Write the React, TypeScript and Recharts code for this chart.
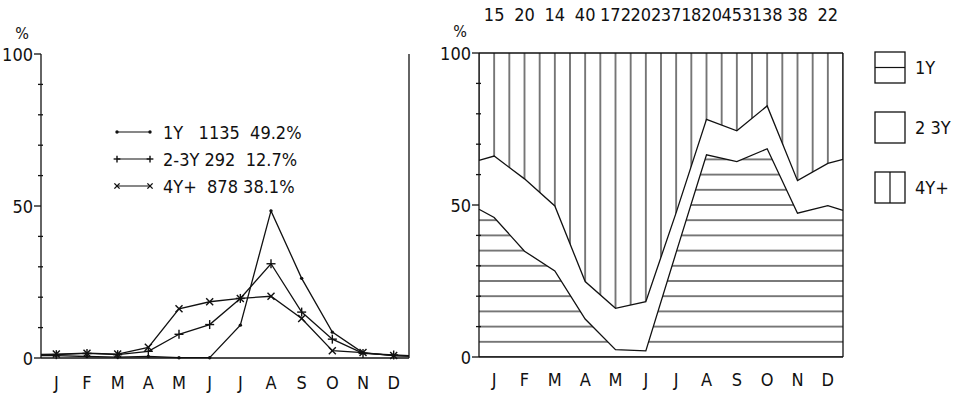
import React from "react";
import { LineChart, Line, ComposedChart, Area, XAxis, YAxis, Legend } from "recharts";

const months = ["J", "F", "M", "A", "M", "J", "J", "A", "S", "O", "N", "D"];
const monthTicks = [1, 2, 3, 4, 5, 6, 7, 8, 9, 10, 11, 12];
// 0.5 and 12.5 are the plot edges the curves run out to
const positions = [0.5, 1, 2, 3, 4, 5, 6, 7, 8, 9, 10, 11, 12, 12.5];

// left panel: % of each age group's total caught in each month
const oneYear = [0.8, 0.8, 0.5, 0.3, 0.5, 0.1, 0.1, 10.8, 48.4, 26.2, 8.5, 1.7, 0.8, 0.6];
const twoThree = [1.0, 1.1, 1.5, 1.1, 2.2, 7.8, 11.0, 19.6, 31.0, 15.1, 6.2, 1.5, 1.0, 0.8];
const fourPlus = [1.2, 1.3, 1.6, 1.3, 3.5, 16.2, 18.5, 19.6, 20.3, 13.0, 2.4, 1.8, 0.8, 0.6];

const seriesNames = ["1Y", "2-3Y", "4Y+"];
const seriesTotals = [1135, 292, 878];
const seriesShares = ["49.2%", "12.7%", "38.1%"];

// right panel: monthly counts and cumulative composition
const monthlyCounts = [15, 20, 14, 40, 172, 202, 371, 820, 453, 138, 38, 22];
const oneYearShare = [48.6, 45.9, 34.8, 28.3, 12.5, 2.4, 2.0, 34.4, 66.5, 64.3, 68.5, 47.3, 49.8, 48.2];
const underFourShare = [64.7, 66.1, 58.6, 49.7, 24.8, 16.0, 18.2, 47.5, 78.2, 74.4, 82.6, 58.0, 63.7, 65.0];

const compositionNames = ["1Y", "2 3Y", "4Y+"];

const valueTicks = [0, 10, 20, 30, 40, 50, 60, 70, 80, 90, 100];

const lineData = positions.map((x, i) => ({
  x,
  edge: i === 0 || i === positions.length - 1,
  oneYear: oneYear[i],
  twoThree: twoThree[i],
  fourPlus: fourPlus[i],
}));

const shareData = positions.map((x, i) => ({
  x,
  oneYear: oneYearShare[i],
  underFour: underFourShare[i],
}));

const FONT = '"Liberation Sans Narrow", "DejaVu Sans Condensed", "Liberation Sans", sans-serif';
const INK = "#111";
const FS = 18;

// right panel geometry (for aligning hatch patterns with the grid)
const R_W = 526;
const R_H = 394;
const R_TOP = 53;
const R_BOTTOM_AXIS = 37;
const R_LEFT_AXIS = 39;
const R_RIGHT_AXIS = 10;
const R_MARGIN_RIGHT = 113;
const R_PLOT_W = R_W - R_LEFT_AXIS - R_RIGHT_AXIS - R_MARGIN_RIGHT;
const R_PLOT_H = R_H - R_TOP - R_BOTTOM_AXIS;
const ROW = R_PLOT_H / 20;
const COL = R_PLOT_W / 24;

function LeftValueTick(props: any) {
  const { x, y, payload } = props;
  const v = payload.value;
  const major = v % 50 === 0;
  return (
    <g>
      <line x1={major ? x - 7 : x - 3} x2={major ? x : x + 2} y1={y} y2={y} stroke={INK} strokeWidth={1.3} />
      {major && (
        <text x={x - 8} y={y + 7} textAnchor="end" fontSize={FS} fontFamily={FONT} fill={INK}>
          {v}
        </text>
      )}
    </g>
  );
}

function RightValueTick(props: any) {
  const { x, y, payload } = props;
  const major = payload.value % 50 === 0;
  return <line x1={major ? x : x - 2} x2={major ? x + 6 : x + 4} y1={y} y2={y} stroke={INK} strokeWidth={1.3} />;
}

function MonthTick(props: any) {
  const { x, y, payload, drop } = props;
  return (
    <text x={x} y={y + drop} textAnchor="middle" fontSize={FS} fontFamily={FONT} fill={INK}>
      {months[payload.value - 1]}
    </text>
  );
}

function CountTick(props: any) {
  const { x, y, payload } = props;
  return (
    <text x={x} y={y - 32} textAnchor="middle" fontSize={FS} fontFamily={FONT} fill={INK}>
      {monthlyCounts[payload.value - 1]}
    </text>
  );
}

function UnitLabel(props: any) {
  const { viewBox, dx, dy } = props;
  if (!viewBox) return null;
  return (
    <text x={viewBox.x + viewBox.width + dx} y={viewBox.y + dy} textAnchor="middle" fontSize={16} fontFamily={FONT} fill={INK}>
      %
    </text>
  );
}

function Marker({ kind, cx, cy, s = 1 }: { kind: number; cx: number; cy: number; s?: number }) {
  if (kind === 0) return <circle cx={cx} cy={cy} r={1.7} fill={INK} />;
  if (kind === 1)
    return (
      <g stroke={INK} strokeWidth={1.4}>
        <line x1={cx - 4.5 * s} x2={cx + 4.5 * s} y1={cy} y2={cy} />
        <line x1={cx} x2={cx} y1={cy - 4.5 * s} y2={cy + 4.5 * s} />
      </g>
    );
  return (
    <g stroke={INK} strokeWidth={1.4}>
      <line x1={cx - 3.5 * s} x2={cx + 3.5 * s} y1={cy - 3.5 * s} y2={cy + 3.5 * s} />
      <line x1={cx - 3.5 * s} x2={cx + 3.5 * s} y1={cy + 3.5 * s} y2={cy - 3.5 * s} />
    </g>
  );
}

const makeDot = (kind: number) => (props: any) => {
  const { cx, cy, payload, index } = props;
  if (payload.edge) return <g key={index} />;
  return (
    <g key={index}>
      <Marker kind={kind} cx={cx} cy={cy} />
    </g>
  );
};

// spacing between name, count and share in each legend row
const legendGaps = [
  ["   ", "  "],
  [" ", "  "],
  ["  ", " "],
];

function AgeLegend() {
  return (
    <svg width={220} height={90}>
      {seriesNames.map((name, i) => {
        const cy = 17 + i * 27;
        return (
          <g key={name}>
            <line x1={12} x2={45} y1={cy} y2={cy} stroke={INK} strokeWidth={1.2} />
            <Marker kind={i} cx={12} cy={cy} s={0.75} />
            <Marker kind={i} cx={45} cy={cy} s={0.75} />
            <text x={58} y={cy + 7} fontSize={FS} fontFamily={FONT} fill={INK} style={{ whiteSpace: "pre" }}>
              {`${name}${legendGaps[i][0]}${seriesTotals[i]}${legendGaps[i][1]}${seriesShares[i]}`}
            </text>
          </g>
        );
      })}
    </svg>
  );
}

function CompositionLegend() {
  return (
    <svg width={96} height={170}>
      {compositionNames.map((name, i) => {
        const top = 12 + i * 60;
        return (
          <g key={name}>
            <rect x={5} y={top} width={30} height={31} fill="#fff" stroke={INK} strokeWidth={1.3} />
            {i === 0 && <line x1={5} x2={35} y1={top + 15.5} y2={top + 15.5} stroke={INK} strokeWidth={1.2} />}
            {i === 2 && <line x1={20} x2={20} y1={top} y2={top + 31} stroke={INK} strokeWidth={1.2} />}
            <text x={45} y={top + 22} fontSize={FS} fontFamily={FONT} fill={INK}>
              {name}
            </text>
          </g>
        );
      })}
    </svg>
  );
}

function AgeLines() {
  return (
    <LineChart width={440} height={394} data={lineData} margin={{ top: 54, right: 0, bottom: 0, left: 0 }}>
      <XAxis
        dataKey="x"
        type="number"
        domain={[0.5, 12.5]}
        ticks={monthTicks}
        interval={0}
        height={36}
        tickLine={false}
        tickSize={0}
        tickMargin={0}
        axisLine={{ stroke: INK, strokeWidth: 1.3 }}
        tick={(p: any) => <MonthTick {...p} drop={31} />}
      />
      <YAxis
        yAxisId="left"
        domain={[0, 100]}
        ticks={valueTicks}
        interval={0}
        width={41}
        tickLine={false}
        tickSize={0}
        tickMargin={0}
        axisLine={{ stroke: INK, strokeWidth: 1.3 }}
        tick={(p: any) => <LeftValueTick {...p} />}
        label={<UnitLabel dx={-19} dy={-15} />}
      />
      <YAxis
        yAxisId="right"
        orientation="right"
        domain={[0, 100]}
        ticks={valueTicks}
        interval={0}
        width={31}
        tickLine={false}
        tickSize={0}
        tickMargin={0}
        axisLine={{ stroke: INK, strokeWidth: 1.3 }}
        tick={(p: any) => <RightValueTick {...p} />}
      />
      <Legend
        layout="horizontal"
        verticalAlign="middle"
        align="center"
        content={() => <AgeLegend />}
        wrapperStyle={{ left: 105, top: 115, width: 220, height: 90 }}
      />
      <Line yAxisId="left" type="linear" dataKey="oneYear" stroke={INK} strokeWidth={1.3} dot={makeDot(0)} isAnimationActive={false} />
      <Line yAxisId="left" type="linear" dataKey="twoThree" stroke={INK} strokeWidth={1.3} dot={makeDot(1)} isAnimationActive={false} />
      <Line yAxisId="left" type="linear" dataKey="fourPlus" stroke={INK} strokeWidth={1.3} dot={makeDot(2)} isAnimationActive={false} />
    </LineChart>
  );
}

function Composition() {
  return (
    <ComposedChart
      width={R_W}
      height={R_H}
      data={shareData}
      margin={{ top: R_TOP - 40, right: R_MARGIN_RIGHT, bottom: 0, left: 0 }}
    >
      <defs>
        <pattern id="hatchH" patternUnits="userSpaceOnUse" x={0} y={R_TOP + R_PLOT_H - ROW / 2} width={10} height={ROW}>
          <line x1={0} x2={10} y1={ROW / 2} y2={ROW / 2} stroke={INK} strokeWidth={1.1} />
        </pattern>
        <pattern id="hatchV" patternUnits="userSpaceOnUse" x={R_LEFT_AXIS - COL / 2} y={0} width={COL} height={10}>
          <line x1={COL / 2} x2={COL / 2} y1={0} y2={10} stroke={INK} strokeWidth={1.1} />
        </pattern>
      </defs>
      <XAxis
        dataKey="x"
        type="number"
        domain={[0.5, 12.5]}
        ticks={monthTicks}
        interval={0}
        height={R_BOTTOM_AXIS}
        tickLine={false}
        tickSize={0}
        tickMargin={0}
        axisLine={{ stroke: INK, strokeWidth: 1.3 }}
        tick={(p: any) => <MonthTick {...p} drop={29} />}
      />
      <XAxis
        xAxisId="counts"
        orientation="top"
        dataKey="x"
        type="number"
        domain={[0.5, 12.5]}
        ticks={monthTicks}
        interval={0}
        height={40}
        tickLine={false}
        tickSize={0}
        tickMargin={0}
        axisLine={false}
        tick={(p: any) => <CountTick {...p} />}
      />
      <YAxis
        yAxisId="left"
        domain={[0, 100]}
        ticks={valueTicks}
        interval={0}
        width={R_LEFT_AXIS}
        tickLine={false}
        tickSize={0}
        tickMargin={0}
        axisLine={{ stroke: INK, strokeWidth: 1.3 }}
        tick={(p: any) => <LeftValueTick {...p} />}
        label={<UnitLabel dx={-19} dy={-16} />}
      />
      <YAxis
        yAxisId="right"
        orientation="right"
        domain={[0, 100]}
        ticks={valueTicks}
        interval={0}
        width={R_RIGHT_AXIS}
        tickLine={false}
        tickSize={0}
        tickMargin={0}
        axisLine={{ stroke: INK, strokeWidth: 1.3 }}
        tick={(p: any) => <RightValueTick {...p} />}
      />
      <Legend
        layout="horizontal"
        verticalAlign="middle"
        align="center"
        content={() => <CompositionLegend />}
        wrapperStyle={{ left: 430, top: 40, width: 96, height: 170 }}
      />
      <Area
        yAxisId="left"
        type="linear"
        dataKey="oneYear"
        stroke={INK}
        strokeWidth={1.3}
        fill="url(#hatchH)"
        fillOpacity={1}
        isAnimationActive={false}
      />
      <Area
        yAxisId="left"
        type="linear"
        dataKey={(d: any) => [d.underFour, 100]}
        stroke={INK}
        strokeWidth={1.3}
        fill="url(#hatchV)"
        fillOpacity={1}
        isAnimationActive={false}
      />
    </ComposedChart>
  );
}

export default function App() {
  return (
    <div style={{ position: "relative", width: 966, height: 394, background: "#fff", overflow: "hidden" }}>
      <style>{"body{margin:0}"}</style>
      <div style={{ position: "absolute", left: 0, top: 0 }}>
        <AgeLines />
      </div>
      <div style={{ position: "absolute", left: 440, top: 0 }}>
        <Composition />
      </div>
    </div>
  );
}
